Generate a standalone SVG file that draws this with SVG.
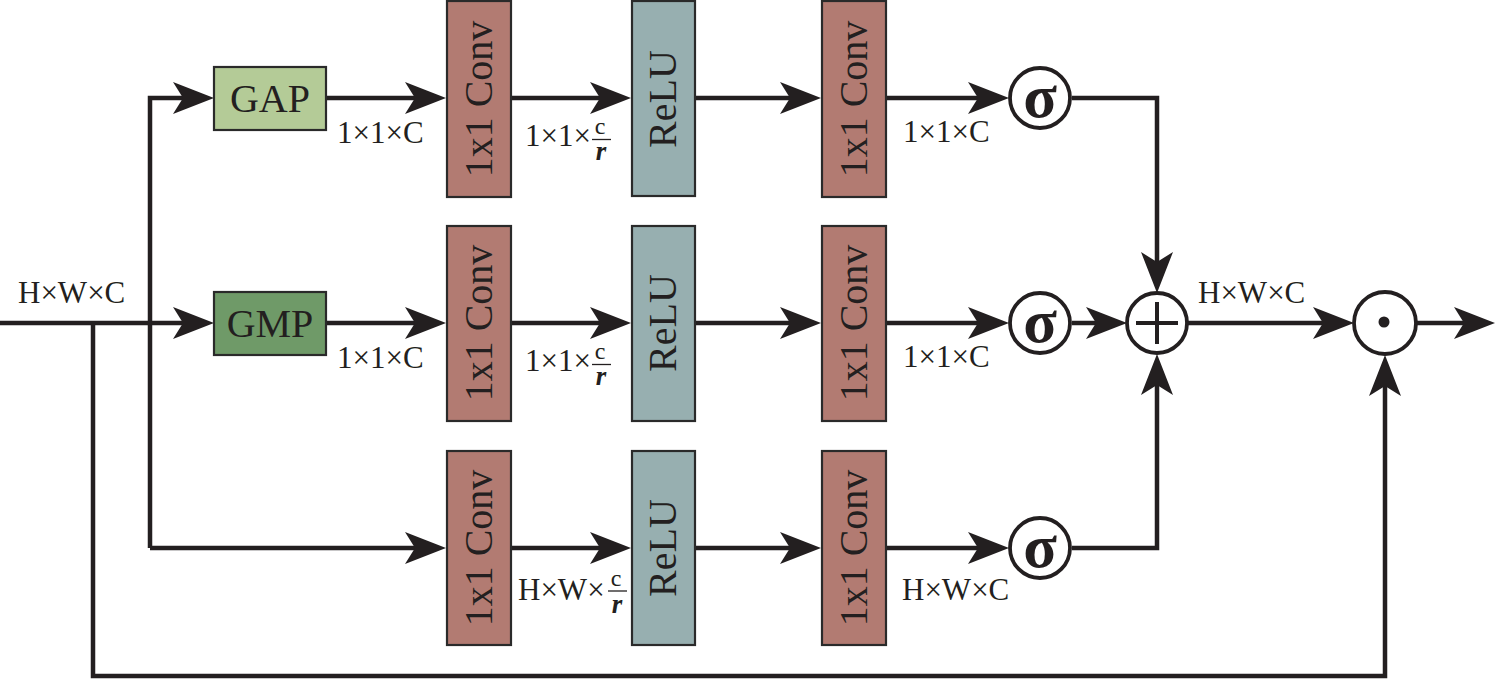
<svg xmlns="http://www.w3.org/2000/svg" xmlns:xlink="http://www.w3.org/1999/xlink" width="1500" height="691" viewBox="0 0 1500 691" font-family="'Liberation Serif', 'DejaVu Serif', serif">
<style>
.ln{fill:none;stroke:#231f20;stroke-width:4.5}
.box{stroke:#2a2a2a;stroke-width:2.2}
.conv{fill:#b27b72}
.relu{fill:#97afb0}
.gap{fill:#b4cb97}
.gmp{fill:#6f9a68}
text{font-family:'Liberation Serif','DejaVu Serif',serif;fill:#231f20}
.t40{font-size:40px}
.lbl{font-size:31px}
.num{font-size:24px}
.den{font-size:27px;font-style:italic;font-weight:bold}
.bar{stroke:#231f20;stroke-width:1.3}
.circ{fill:#fff;stroke:#231f20;stroke-width:3.8}
.sig{font-size:62px;font-weight:bold}
.ah{fill:#231f20}
</style>
<defs>
<path id="ah" d="M0,0 L-41,-16 L-31,0 L-41,16 Z"/>
</defs>

<g id="connectors">
<path class="ln" d="M150,548 V98 H184"/>
<path class="ln" d="M0,323 H184"/>
<path class="ln" d="M150,548 H416"/>
<path class="ln" d="M326,98 H416"/>
<path class="ln" d="M326,323 H416"/>
<path class="ln" d="M512,98 H601"/>
<path class="ln" d="M512,323 H601"/>
<path class="ln" d="M512,548 H601"/>
<path class="ln" d="M695,98 H791"/>
<path class="ln" d="M695,323 H791"/>
<path class="ln" d="M695,548 H791"/>
<path class="ln" d="M886,98 H979"/>
<path class="ln" d="M886,323 H979"/>
<path class="ln" d="M886,548 H979"/>
<path class="ln" d="M1072,98 H1157 V263"/>
<path class="ln" d="M1072,323 H1097"/>
<path class="ln" d="M1072,548 H1157 V385"/>
<path class="ln" d="M1188,323 H1324"/>
<path class="ln" d="M1416,323 H1465"/>
<path class="ln" d="M93,323 V676 H1385 V386"/>
<g class="ah">
<use xlink:href="#ah" transform="translate(214,98)"/>
<use xlink:href="#ah" transform="translate(214,323)"/>
<use xlink:href="#ah" transform="translate(446,98)"/>
<use xlink:href="#ah" transform="translate(446,323)"/>
<use xlink:href="#ah" transform="translate(446,548)"/>
<use xlink:href="#ah" transform="translate(631,98)"/>
<use xlink:href="#ah" transform="translate(631,323)"/>
<use xlink:href="#ah" transform="translate(631,548)"/>
<use xlink:href="#ah" transform="translate(821,98)"/>
<use xlink:href="#ah" transform="translate(821,323)"/>
<use xlink:href="#ah" transform="translate(821,548)"/>
<use xlink:href="#ah" transform="translate(1009,98)"/>
<use xlink:href="#ah" transform="translate(1009,323)"/>
<use xlink:href="#ah" transform="translate(1009,548)"/>
<use xlink:href="#ah" transform="translate(1157,293) rotate(90)"/>
<use xlink:href="#ah" transform="translate(1157,354) rotate(-90)"/>
<use xlink:href="#ah" transform="translate(1127,323)"/>
<use xlink:href="#ah" transform="translate(1354,323)"/>
<use xlink:href="#ah" transform="translate(1495,323)"/>
<use xlink:href="#ah" transform="translate(1385,355) rotate(-90)"/>
</g>
</g>

<g id="gap">
<rect class="box gap" x="214" y="67" width="112" height="63"/>
<text class="t40" x="270" y="112" text-anchor="middle">GAP</text>
</g>
<g id="gmp">
<rect class="box gmp" x="214" y="292" width="112" height="63"/>
<text class="t40" x="270" y="337" text-anchor="middle">GMP</text>
</g>

<g id="conv1a">
<rect class="box conv" x="447" y="1" width="64" height="196"/>
<text class="t40" transform="translate(479,99) rotate(-90)" x="0" y="13" text-anchor="middle">1x1 Conv</text>
</g>
<g id="conv1b">
<rect class="box conv" x="447" y="226" width="64" height="195"/>
<text class="t40" transform="translate(479,323) rotate(-90)" x="0" y="13" text-anchor="middle">1x1 Conv</text>
</g>
<g id="conv1c">
<rect class="box conv" x="447" y="451" width="64" height="194"/>
<text class="t40" transform="translate(479,548) rotate(-90)" x="0" y="13" text-anchor="middle">1x1 Conv</text>
</g>

<g id="relua">
<rect class="box relu" x="632" y="1" width="63" height="195"/>
<text class="t40" transform="translate(663,99) rotate(-90)" x="0" y="13" text-anchor="middle">ReLU</text>
</g>
<g id="relub">
<rect class="box relu" x="632" y="226" width="63" height="195"/>
<text class="t40" transform="translate(663,323) rotate(-90)" x="0" y="13" text-anchor="middle">ReLU</text>
</g>
<g id="reluc">
<rect class="box relu" x="632" y="451" width="63" height="194"/>
<text class="t40" transform="translate(663,548) rotate(-90)" x="0" y="13" text-anchor="middle">ReLU</text>
</g>

<g id="conv2a">
<rect class="box conv" x="822" y="1" width="64" height="196"/>
<text class="t40" transform="translate(854,99) rotate(-90)" x="0" y="13" text-anchor="middle">1x1 Conv</text>
</g>
<g id="conv2b">
<rect class="box conv" x="822" y="226" width="64" height="195"/>
<text class="t40" transform="translate(854,323) rotate(-90)" x="0" y="13" text-anchor="middle">1x1 Conv</text>
</g>
<g id="conv2c">
<rect class="box conv" x="822" y="451" width="64" height="194"/>
<text class="t40" transform="translate(854,548) rotate(-90)" x="0" y="13" text-anchor="middle">1x1 Conv</text>
</g>

<g id="sigmaa">
<circle class="circ" cx="1040" cy="98" r="30"/>
<text class="sig" x="1040" y="117" text-anchor="middle">σ</text>
</g>
<g id="sigmab">
<circle class="circ" cx="1040" cy="323" r="30"/>
<text class="sig" x="1040" y="342" text-anchor="middle">σ</text>
</g>
<g id="sigmac">
<circle class="circ" cx="1040" cy="548" r="30"/>
<text class="sig" x="1040" y="567" text-anchor="middle">σ</text>
</g>

<g id="plus">
<circle class="circ" cx="1157" cy="323" r="30"/>
<path class="ln" d="M1136,323 H1178 M1157,302 V344" style="stroke-width:4"/>
</g>
<g id="odot">
<circle class="circ" cx="1385" cy="323" r="31"/>
<circle cx="1384" cy="322" r="5.5" fill="#231f20"/>
</g>

<g id="labels">
<text class="lbl" x="18" y="303">H×W×C</text>
<text class="lbl" x="1198" y="303">H×W×C</text>
<text class="lbl" x="337" y="143">1×1×C</text>
<text class="lbl" x="337" y="368">1×1×C</text>
<text class="lbl" x="903" y="142">1×1×C</text>
<text class="lbl" x="903" y="367">1×1×C</text>
<text class="lbl" x="902" y="600">H×W×C</text>
<text class="lbl" x="525" y="146">1×1×</text>
<text class="num" x="600" y="134" text-anchor="middle">c</text>
<line class="bar" x1="592" y1="139.5" x2="611" y2="139.5"/>
<text class="den" x="601" y="160" text-anchor="middle">r</text>
<text class="lbl" x="525" y="371">1×1×</text>
<text class="num" x="600" y="359" text-anchor="middle">c</text>
<line class="bar" x1="592" y1="364.5" x2="611" y2="364.5"/>
<text class="den" x="601" y="385" text-anchor="middle">r</text>
<text class="lbl" x="518" y="600">H×W×</text>
<text class="num" x="616" y="586" text-anchor="middle">c</text>
<line class="bar" x1="608" y1="591" x2="627" y2="591"/>
<text class="den" x="617" y="613" text-anchor="middle">r</text>
</g>
</svg>
